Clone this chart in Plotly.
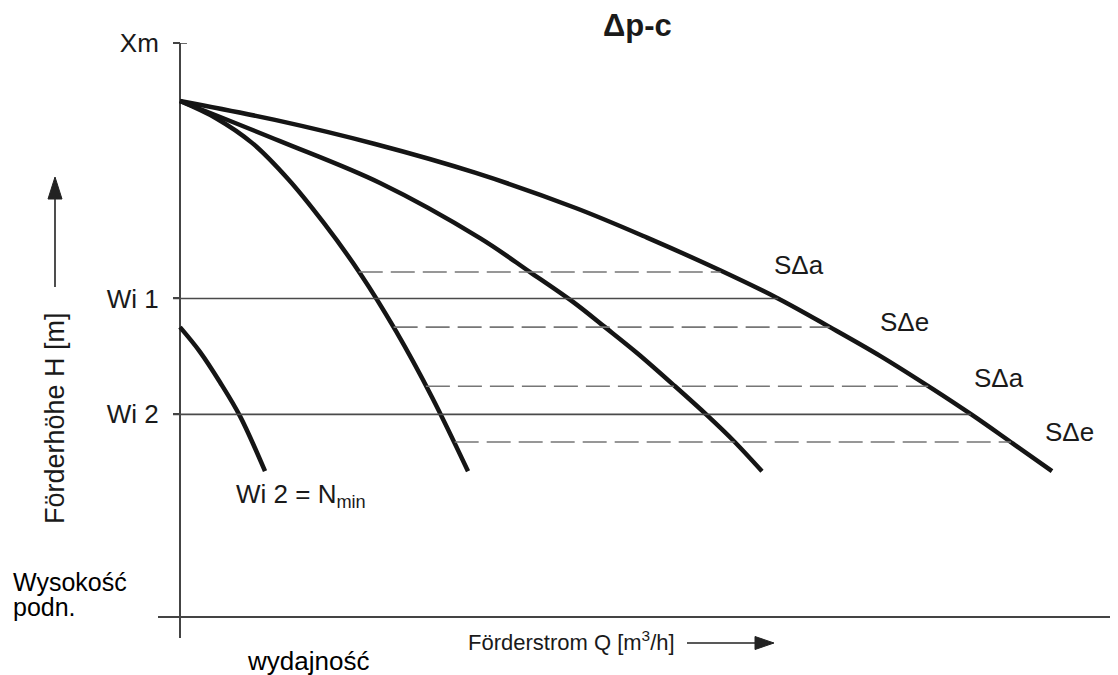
import plotly.graph_objects as go

# ---------------- data (arbitrary units) ----------------
# Q = flow, H = head ; Xm = maximum head
XM = 10.0
WI1 = 5.55
WI2 = 3.53

# outer pump curve (SΔa / SΔe curve)
q_c3 = [0.0, 1.089, 2.236, 3.383, 4.530, 5.356, 6.193, 6.858, 7.454, 8.028, 8.635, 9.083, 9.553, 10.0]
h_c3 = [8.99, 8.66, 8.24, 7.74, 7.13, 6.61, 6.04, 5.55, 5.05, 4.55, 3.97, 3.52, 3.02, 2.54]

# middle pump curve
q_c2 = [0.0, 1.147, 2.294, 3.440, 4.014, 4.507, 4.874, 5.241, 5.677, 6.055, 6.342, 6.674]
h_c2 = [8.99, 8.29, 7.56, 6.60, 6.01, 5.49, 5.05, 4.60, 4.02, 3.50, 3.08, 2.54]

# steep pump curve
q_c1 = [0.0, 0.413, 0.826, 1.239, 1.651, 2.064, 2.477, 2.890, 3.303]
h_c1 = [8.99, 8.69, 8.26, 7.63, 6.86, 5.99, 4.98, 3.83, 2.54]

# minimum speed curve (Wi 2 = Nmin)
q_nmin = [0.0, 0.229, 0.459, 0.688, 0.975]
h_nmin = [5.05, 4.62, 4.09, 3.50, 2.54]

# set-point lines (Wi 1, Wi 2): start at tick, end on outer curve
wi_levels = [WI1, WI2]
wi_q_start = [-0.08, -0.08]
wi_q_end = [6.86, 9.07]

# dashed SΔ lines
dash_levels = [6.01, 5.05, 4.02, 3.05]
dash_q_start = [2.05, 2.45, 2.82, 3.15]
dash_q_end = [6.20, 7.45, 8.58, 9.53]
dash_labels = ["SΔa", "SΔe", "SΔa", "SΔe"]

y_tickvals = [XM, WI1, WI2]
y_ticktext = ["Xm", "Wi 1", "Wi 2"]

# ---------------- layout helpers (reference pixel frame) ----------------
OFF = 8                      # browser body margin
REF_W, REF_H = 1118, 675
PL, PR, PT, PB = 158, 1118, 43, 638   # plot area in reference pixels
W, H = REF_W - OFF, REF_H - OFF


def px(x):
    return (x - PL) / (PR - PL)


def py(y):
    return (PB - y) / (PB - PT)


FONT = "Liberation Sans, Arial, Helvetica, sans-serif"
TXT = "#1a1a1a"

fig = go.Figure()

curve_style = dict(color="#151515", width=4.5)
for q, h in [(q_c3, h_c3), (q_c2, h_c2), (q_c1, h_c1), (q_nmin, h_nmin)]:
    fig.add_trace(go.Scatter(x=q, y=h, mode="lines",
                             line=dict(shape="spline", smoothing=1.0, **curve_style),
                             hoverinfo="skip", showlegend=False))

for lvl, q0, q1 in zip(wi_levels, wi_q_start, wi_q_end):
    fig.add_trace(go.Scatter(x=[q0, q1], y=[lvl, lvl], mode="lines",
                             line=dict(color="#4a4a4a", width=1.6), hoverinfo="skip", showlegend=False))

for lvl, q0, q1 in zip(dash_levels, dash_q_start, dash_q_end):
    fig.add_trace(go.Scatter(x=[q0, q1], y=[lvl, lvl], mode="lines",
                             line=dict(color="#767676", width=1.6, dash="24px,8px"),
                             hoverinfo="skip", showlegend=False))

# Xm tick right half
fig.add_shape(type="line", xref="x", yref="y", x0=0, x1=0.08, y0=XM, y1=XM,
              line=dict(color="#444", width=1.6))

# axis-title arrows (line + filled head)
ARW = "#222"
fig.add_shape(type="line", xref="paper", yref="paper", x0=px(55), x1=px(55), y0=py(287), y1=py(196),
              line=dict(color=ARW, width=1.6))
fig.add_shape(type="path", xref="paper", yref="paper", fillcolor=ARW, line=dict(color=ARW, width=1),
              path=f"M {px(55)},{py(177)} L {px(48)},{py(199)} L {px(62)},{py(199)} Z")
fig.add_shape(type="line", xref="paper", yref="paper", x0=px(687), x1=px(757), y0=py(643), y1=py(643),
              line=dict(color=ARW, width=1.6))
fig.add_shape(type="path", xref="paper", yref="paper", fillcolor=ARW, line=dict(color=ARW, width=1),
              path=f"M {px(774)},{py(643)} L {px(755)},{py(636.5)} L {px(755)},{py(649.5)} Z")


def label(text, x, y, size, xanchor="left", angle=0, color=TXT):
    return dict(text=text, x=px(x), y=py(y), xref="paper", yref="paper",
                xanchor=xanchor, yanchor="middle", textangle=angle, showarrow=False,
                font=dict(size=size, color=color, family=FONT))


annotations = []
lab_pos = [(772, 265), (878, 322), (972, 378), (1043, 432)]
for t, (x, y) in zip(dash_labels, lab_pos):
    annotations.append(label(t, x, y, 26))

annotations.append(label("<b>Δp-c</b>", 637, 25, 31, xanchor="center"))
annotations.append(label("Förderhöhe H [m]", 55, 418, 27, xanchor="center", angle=-90))
annotations.append(label("Förderstrom Q [m<sup>3</sup>/h]", 466, 641, 22))
annotations.append(label("Wi 2 = N<sub>min</sub>", 234, 495, 26))
annotations.append(label("Wysokość", 11, 582, 25, color="#000"))
annotations.append(label("podn.", 11, 607, 25, color="#000"))
annotations.append(label("wydajność", 308, 661, 26, xanchor="center", color="#000"))

x_lo = (PL - 180) / 87.2
x_hi = (PR - 180) / 87.2
y_lo = (617 - PB) / 57.4
y_hi = (617 - PT) / 57.4

fig.update_layout(
    width=W, height=H,
    margin=dict(l=PL - OFF, r=W - (PR - OFF), t=PT - OFF, b=H - (PB - OFF), pad=0),
    paper_bgcolor="white", plot_bgcolor="white",
    showlegend=False,
    annotations=annotations,
    xaxis=dict(range=[x_lo, x_hi], showgrid=False, showticklabels=False, ticks="",
               zeroline=True, zerolinecolor="#444", zerolinewidth=1.6, showline=False),
    yaxis=dict(range=[y_lo, y_hi], showgrid=False, zeroline=True, zerolinecolor="#444",
               zerolinewidth=1.6, showline=False, anchor="free", position=px(180),
               tickmode="array", tickvals=y_tickvals, ticktext=y_ticktext,
               ticks="outside", ticklen=7, tickwidth=1.6, tickcolor="#444",
               ticklabelstandoff=9,
               tickfont=dict(size=26, color=TXT, family=FONT)),
)

fig.write_html("out.html")
